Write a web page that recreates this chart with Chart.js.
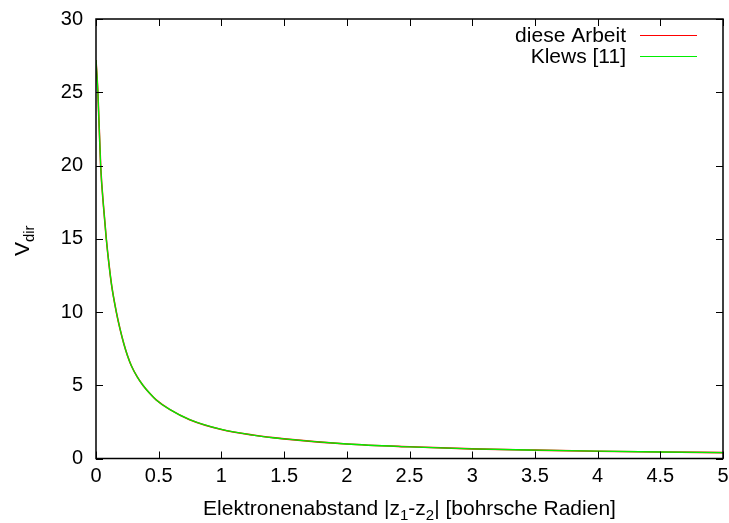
<!DOCTYPE html>
<html>
<head>
<meta charset="utf-8">
<script src="https://cdn.jsdelivr.net/npm/chart.js@4.4.1/dist/chart.umd.min.js"></script>
<style>
  html, body { margin: 0; padding: 0; background: #ffffff; }
  #wrap { width: 729px; height: 523px; }
</style>
</head>
<body>
<div id="wrap"><canvas id="c" width="729" height="523"></canvas></div>
<script>
// ---- data ----
const distance = [0, 0.015, 0.037, 0.06, 0.082, 0.103, 0.125, 0.162, 0.19, 0.223, 0.25, 0.281, 0.33, 0.374, 0.428, 0.48, 0.587, 0.747, 1.0, 1.25, 1.5, 2.0, 2.5, 3.0, 3.5, 4.0, 4.5, 5.0];
const vDirDieseArbeit = [27.2, 25.0, 20.0, 17.2, 15.0, 13.3, 11.8, 10.0, 8.9, 7.8, 7.05, 6.35, 5.55, 5.0, 4.45, 4.0, 3.35, 2.65, 1.98, 1.6, 1.34, 0.99, 0.8, 0.66, 0.57, 0.5, 0.445, 0.4];
const vDirKlews       = [27.2, 25.0, 20.0, 17.2, 15.0, 13.3, 11.8, 10.0, 8.9, 7.8, 7.05, 6.35, 5.55, 5.0, 4.45, 4.0, 3.35, 2.65, 1.98, 1.6, 1.34, 0.99, 0.8, 0.66, 0.57, 0.5, 0.445, 0.4];
const seriesNames = ['diese Arbeit', 'Klews [11]'];
const xTickStep = 0.5, xMin = 0, xMax = 5;
const yTickStep = 5, yMin = 0, yMax = 30;

const FONT = '"Liberation Sans", Arial, Helvetica, sans-serif';
const FS = 20;
const FT = 21;

function pairs(xs, ys) { return xs.map((x, i) => ({ x: x, y: ys[i] })); }

const framePlugin = {
  id: 'gnuframe',
  afterDraw(chart) {
    const ctx = chart.ctx;
    const a = chart.chartArea;
    const xs = chart.scales.x, ys = chart.scales.y;
    ctx.save();
    ctx.strokeStyle = '#000';
    ctx.lineWidth = 1;
    const tl = 7;
    ctx.beginPath();
    xs.ticks.forEach(t => {
      const px = Math.round(xs.getPixelForValue(t.value)) + 0.5;
      ctx.moveTo(px, a.bottom); ctx.lineTo(px, a.bottom - tl);
      ctx.moveTo(px, a.top); ctx.lineTo(px, a.top + tl);
    });
    ys.ticks.forEach(t => {
      const py = Math.round(ys.getPixelForValue(t.value)) + 0.5;
      ctx.moveTo(a.left, py); ctx.lineTo(a.left + tl, py);
      ctx.moveTo(a.right, py); ctx.lineTo(a.right - tl, py);
    });
    ctx.stroke();
    ctx.lineWidth = 1.5;
    ctx.strokeRect(a.left, a.top, a.right - a.left, a.bottom - a.top);

    // legend (gnuplot style: text right-aligned, sample to the right)
    ctx.textBaseline = 'middle';
    ctx.textAlign = 'right';
    ctx.font = FT + 'px ' + FONT;
    seriesNames.forEach((name, i) => {
      const ds = chart.data.datasets.find(d => d.label === name);
      const y = Math.round(a.top + 16 + i * 21);
      ctx.fillStyle = '#000';
      ctx.fillText(name, a.right - 97, y + 1);
      ctx.strokeStyle = ds.borderColor;
      ctx.lineWidth = 1;
      ctx.beginPath();
      ctx.moveTo(Math.round(a.right - 83), y + 0.5);
      ctx.lineTo(Math.round(a.right - 26), y + 0.5);
      ctx.stroke();
    });

    // axis titles with subscripts
    ctx.fillStyle = '#000';
    ctx.textBaseline = 'alphabetic';
    const big = FT + 'px ' + FONT, small = Math.round(FT * 0.72) + 'px ' + FONT;
    const parts = [
      ['Elektronenabstand |z', big, 0], ['1', small, 5], ['-z', big, 0], ['2', small, 5], ['| [bohrsche Radien]', big, 0]
    ];
    let total = 0;
    parts.forEach(p => { ctx.font = p[1]; total += ctx.measureText(p[0]).width; });
    let cx = (a.left + a.right) / 2 - total / 2;
    const by = 515;
    ctx.textAlign = 'left';
    parts.forEach(p => { ctx.font = p[1]; ctx.fillText(p[0], cx, by + p[2]); cx += ctx.measureText(p[0]).width; });

    ctx.save();
    ctx.translate(29, (a.top + a.bottom) / 2 + 2);
    ctx.rotate(-Math.PI / 2);
    const yparts = [['V', big, 0], ['dir', small, 5]];
    let yt = 0;
    yparts.forEach(p => { ctx.font = p[1]; yt += ctx.measureText(p[0]).width; });
    let yx = -yt / 2;
    yparts.forEach(p => { ctx.font = p[1]; ctx.fillText(p[0], yx, p[2]); yx += ctx.measureText(p[0]).width; });
    ctx.restore();
    ctx.restore();
  }
};

new Chart(document.getElementById('c'), {
  type: 'line',
  data: {
    datasets: [
      { label: seriesNames[0], data: pairs(distance, vDirDieseArbeit), borderColor: '#ff0000', borderWidth: 1.6, pointRadius: 0, cubicInterpolationMode: 'monotone', fill: false, order: 2 },
      { label: seriesNames[1], data: pairs(distance, vDirKlews), borderColor: '#00ee00', borderWidth: 1.3, pointRadius: 0, cubicInterpolationMode: 'monotone', fill: false, order: 1 }
    ]
  },
  options: {
    responsive: false,
    animation: false,
    events: [],
    layout: { padding: { top: 19, right: 6, left: 0, bottom: 0 } },
    plugins: { legend: { display: false }, tooltip: { enabled: false }, title: { display: false } },
    scales: {
      x: {
        type: 'linear', min: xMin, max: xMax,
        ticks: { stepSize: xTickStep, color: '#000', font: { family: FONT, size: FS }, padding: 6, maxRotation: 0, autoSkip: false, callback: v => String(v) },
        grid: { display: false, drawTicks: false },
        border: { display: false },
        afterFit(s) { s.height = 64.5; s.paddingRight = 0; s.paddingLeft = 0; }
      },
      y: {
        type: 'linear', min: yMin, max: yMax,
        ticks: { stepSize: yTickStep, color: '#000', font: { family: FONT, size: FS }, padding: 13, callback: v => String(v) },
        grid: { display: false, drawTicks: false },
        border: { display: false },
        afterFit(s) { s.width = 96; s.paddingTop = 0; s.paddingBottom = 0; }
      }
    }
  },
  plugins: [framePlugin]
});
</script>
</body>
</html>
